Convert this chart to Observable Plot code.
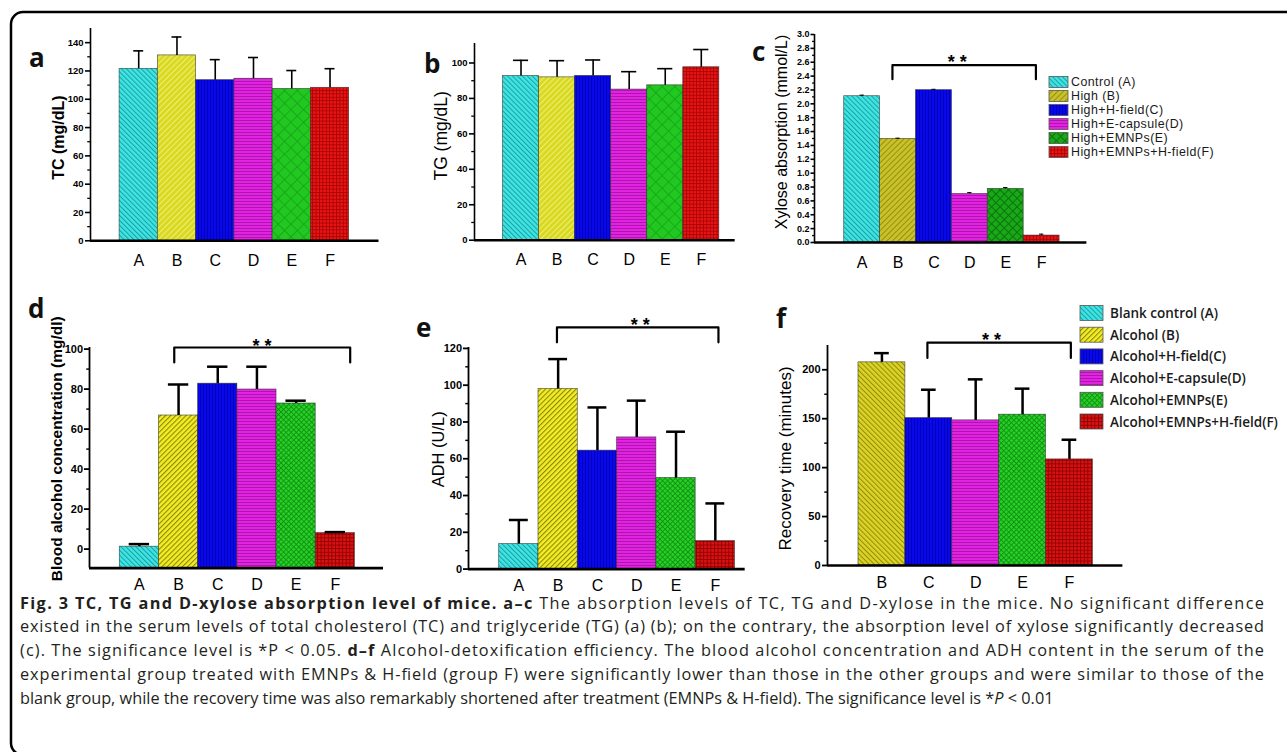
<!DOCTYPE html>
<html><head><meta charset="utf-8">
<script src="https://cdn.jsdelivr.net/npm/d3@7"></script>
<script src="https://cdn.jsdelivr.net/npm/@observablehq/plot@0.6"></script>
<style>
html,body{margin:0;padding:0;background:#fff;}
#root{position:relative;width:1287px;height:752px;overflow:hidden;background:#fff;}
#root svg{position:absolute;}
</style></head><body><div id="root"></div>
<script>
// ---------------- data ----------------
const cats6 = ["A","B","C","D","E","F"];
const catsF = ["B","C","D","E","F"];
const tcMean = [121.5, 131.0, 113.5, 114.5, 107.3, 108.1];
const tcErr  = [12.7, 13.0, 14.5, 15.0, 13.0, 13.5];
const tgMean = [92.7, 91.9, 92.7, 85.0, 87.4, 97.6];
const tgErr  = [8.8, 9.4, 9.0, 10.1, 9.4, 10.0];
const xyMean = [2.11, 1.494, 2.197, 0.70, 0.773, 0.10];
const xyErr  = [0.015, 0.01, 0.012, 0.02, 0.02, 0.02];
const bacMean = [1.2, 66.8, 82.7, 79.8, 72.8, 8.0];
const bacErr  = [1.3, 15.5, 8.5, 11.4, 1.4, 0.5];
const adhMean = [13.6, 97.9, 64.4, 71.6, 49.5, 15.2];
const adhErr  = [13.1, 16.3, 23.5, 20.0, 25.2, 20.5];
const recMean = [207.6, 150.6, 148.3, 154.1, 108.4];
const recErr  = [9.4, 29.0, 41.9, 26.6, 20.1];
const tcTicks = [0, 20, 40, 60, 80, 100, 120, 140];
const tgTicks = [0, 20, 40, 60, 80, 100];
const xyTicks = [0, 0.2, 0.4, 0.6, 0.8, 1.0, 1.2, 1.4, 1.6, 1.8, 2.0, 2.2, 2.4, 2.6, 2.8, 3.0];
const bacTicks = [0, 20, 40, 60, 80, 100];
const adhTicks = [0, 20, 40, 60, 80, 100, 120];
const recTicks = [0, 50, 100, 150, 200];
const legendTop = ["Control (A)", "High (B)", "High+H-field(C)", "High+E-capsule(D)", "High+EMNPs(E)", "High+EMNPs+H-field(F)"];
const legendBottom = ["Blank control (A)", "Alcohol (B)", "Alcohol+H-field(C)", "Alcohol+E-capsule(D)", "Alcohol+EMNPs(E)", "Alcohol+EMNPs+H-field(F)"];
const sigLabel = "* *";
const caption = [
  [{t:"Fig. 3 TC, TG and D-xylose absorption level of mice. a–c", b:true}, {t:" The absorption levels of TC, TG and D-xylose in the mice. No significant difference"}],
  [{t:"existed in the serum levels of total cholesterol (TC) and triglyceride (TG) (a) (b); on the contrary, the absorption level of xylose significantly decreased"}],
  [{t:"(c). The significance level is *P < 0.05. "}, {t:"d–f", b:true}, {t:" Alcohol-detoxification efficiency. The blood alcohol concentration and ADH content in the serum of the"}],
  [{t:"experimental group treated with EMNPs & H-field (group F) were significantly lower than those in the other groups and were similar to those of the"}],
  [{t:"blank group, while the recovery time was also remarkably shortened after treatment (EMNPs & H-field). The significance level is *"}, {t:"P", i:true}, {t:" < 0.01"}]
];

// ---------------- patterns ----------------
const root = d3.select("#root");
const defsSvg = root.append("svg").attr("width", 0).attr("height", 0).style("left", "0px").style("top", "0px");
const defs = defsSvg.append("defs");
function pat(id, bg, col, kind, s, sw, rot) {
  const p = defs.append("pattern").attr("id", id).attr("patternUnits", "userSpaceOnUse")
    .attr("width", s).attr("height", s);
  if (rot) p.attr("patternTransform", `rotate(${rot})`);
  p.append("rect").attr("width", s).attr("height", s).attr("fill", bg);
  if (kind === "line" || kind === "grid")
    p.append("line").attr("x1", 0.5).attr("y1", 0).attr("x2", 0.5).attr("y2", s).attr("stroke", col).attr("stroke-width", sw);
  if (kind === "grid")
    p.append("line").attr("x1", 0).attr("y1", 0.5).attr("x2", s).attr("y2", 0.5).attr("stroke", col).attr("stroke-width", sw);
}
pat("pA", "#3fe4e4", "#1c9f9f", "line", 3.5, 1, -45);
pat("pB", "#d9d923", "#f1f17a", "line", 4, 0.9, 45);
pat("pBc", "#c9c128", "#918a12", "line", 4, 0.9, 45);
pat("pB2", "#f3ee22", "#8c8610", "line", 3.6, 1.2, 45);
pat("pB3", "#dcd424", "#948b12", "line", 3.6, 1.1, -45);
pat("pC", "#0808e8", "#0000b4", "line", 3, 0.8, 0);
pat("pD", "#e223e2", "#a812a8", "line", 3, 0.9, 90);
pat("pE", "#20c820", "#199f19", "grid", 9, 0.8, 45);
pat("pE2", "#18a818", "#0c740c", "grid", 6, 1, 45);
pat("pE3", "#25d225", "#139013", "grid", 3.6, 0.9, 45);
pat("pF", "#e81616", "#a30000", "grid", 3.4, 0.8, 0);
pat("pF2", "#da1212", "#8e0000", "grid", 3.6, 0.9, 0);

// ---------------- panels ----------------
function panel(cfg) {
  const ml = 60, mr = 6, mt = 40, mb = 36;
  const width = cfg.x1 - cfg.x0 + ml + mr;
  const height = cfg.yBase - cfg.yTop + mt + mb;
  const [ymin, ymax] = cfg.ydom;
  const data = cfg.cats.map((c, i) => ({i, c, v: cfg.values[i], e: cfg.errs[i], fill: `url(#${cfg.pats[i]})`}));
  const t0 = cfg.ticks[0], t1 = cfg.ticks[cfg.ticks.length - 1];
  const minors = d3.range(t0, t1 + 1e-9, cfg.minor).filter(t => !cfg.ticks.some(m => Math.abs(m - t) < 1e-9));
  const marks = [
    Plot.rect(data, {x1: d => d.i - 0.5, x2: d => d.i + 0.5, y1: ymin, y2: "v", fill: "fill",
      stroke: "#2a2a2a", strokeWidth: 0.7, strokeOpacity: 0.75}),
    Plot.ruleX(data, {x: "i", y1: "v", y2: d => d.v + d.e, stroke: "#000", strokeWidth: cfg.errW}),
    Plot.ruleY(data, {y: d => d.v + d.e, x1: d => d.i - cfg.cap, x2: d => d.i + cfg.cap, stroke: "#000", strokeWidth: cfg.errW}),
    Plot.ruleY([ymin], {x1: cfg.xdom[0], x2: cfg.xdom[1], stroke: "#000", strokeWidth: cfg.baseW}),
    Plot.ruleX([cfg.xdom[0]], {y1: ymin, y2: ymax, stroke: "#000", strokeWidth: cfg.axisW}),
    Plot.axisY({ticks: cfg.ticks, tickSize: cfg.tickSize, tickPadding: cfg.tickPad, tickFormat: cfg.fmt,
      fontSize: cfg.tickFont, fontWeight: "bold", strokeWidth: cfg.axisW, label: null, fill: "#000"}),
    Plot.axisY({ticks: minors, tickSize: cfg.tickSize * 0.55, tickFormat: () => "", strokeWidth: cfg.axisW * 0.8, label: null}),
    Plot.text(data, {x: "i", y: ymin, text: "c", dy: cfg.catDy, fontSize: 16, lineAnchor: "middle", fill: "#000"}),
    Plot.text([cfg.ylabel], {frameAnchor: "left", text: d => d, rotate: -90, dx: cfg.ldx, dy: cfg.ldy,
      fontSize: cfg.lfs, fontWeight: cfg.lfw, textAnchor: "middle", lineAnchor: "middle", fill: "#000"})
  ];
  if (cfg.sig) {
    const s = cfg.sig;
    const pts = [{x: s.b0, y: s.leg}, {x: s.b0, y: s.top}, {x: s.b1, y: s.top}, {x: s.b1, y: s.leg}];
    marks.push(Plot.line(pts, {x: "x", y: "y", stroke: "#000", strokeWidth: 2.2, strokeLinejoin: "round"}));
    marks.push(Plot.text([sigLabel], {x: s.sx, y: s.sy, text: d => d, fontSize: 18, fontWeight: "bold", lineAnchor: "middle", dy: 4, fill: "#000"}));
  }
  const svg = Plot.plot({
    width, height, marginLeft: ml, marginRight: mr, marginTop: mt, marginBottom: mb,
    x: {type: "linear", domain: cfg.xdom, axis: null},
    y: {type: "linear", domain: cfg.ydom, axis: null},
    color: {type: "identity"},
    style: {fontFamily: "'Liberation Sans', Arial, sans-serif", background: "transparent", overflow: "visible", maxWidth: "none"},
    marks
  });
  svg.style.position = "absolute";
  svg.style.left = (cfg.x0 - ml) + "px";
  svg.style.top = (cfg.yTop - mt) + "px";
  document.getElementById("root").appendChild(svg);
}

const topPats = ["pA", "pB", "pC", "pD", "pE", "pF"];
const botPats = ["pA", "pB2", "pC", "pD", "pE3", "pF2"];

panel({x0: 89.5, x1: 378, yTop: 28.4, yBase: 240.7, xdom: [-1.26, 6.28], ydom: [0, 150],
  cats: cats6, values: tcMean, errs: tcErr, pats: topPats, ticks: tcTicks, minor: 10, fmt: d => d,
  tickFont: 9.5, tickSize: 5, tickPad: 2, axisW: 1.6, baseW: 2.4, errW: 1.6, cap: 0.13, catDy: 20,
  ylabel: "TC (mg/dL)", lfs: 16, lfw: "bold", ldx: -32, ldy: 3});

panel({x0: 474.3, x1: 735, yTop: 43.3, yBase: 240, xdom: [-1.29, 5.94], ydom: [0, 111],
  cats: cats6, values: tgMean, errs: tgErr, pats: topPats, ticks: tgTicks, minor: 10, fmt: d => d,
  tickFont: 9.5, tickSize: 5, tickPad: 2, axisW: 1.6, baseW: 2.4, errW: 1.6, cap: 0.21, catDy: 20,
  ylabel: "TG (mg/dL)", lfs: 17.5, lfw: "normal", ldx: -33, ldy: -6});

panel({x0: 814.3, x1: 1086.7, yTop: 34.3, yBase: 242.3, xdom: [-1.327, 6.26], ydom: [0, 3],
  cats: cats6, values: xyMean, errs: xyErr, pats: ["pA", "pBc", "pC", "pD", "pE2", "pF"], ticks: xyTicks, minor: 0.1, fmt: d => d.toFixed(1),
  tickFont: 9, tickSize: 3.5, tickPad: 1.5, axisW: 1.6, baseW: 2.4, errW: 1, cap: 0.06, catDy: 20,
  ylabel: "Xylose absorption (mmol/L)", lfs: 16, lfw: "normal", ldx: -32.6, ldy: -6.5,
  sig: {b0: 0.844, b1: 4.84, top: 2.557, leg: 2.355, sx: 2.65, sy: 2.658}});

panel({x0: 89, x1: 383, yTop: 346.7, yBase: 567.3, xdom: [-1.273, 6.23], ydom: [-9.5, 100.8],
  cats: cats6, values: bacMean, errs: bacErr, pats: botPats, ticks: bacTicks, minor: 10, fmt: d => d,
  tickFont: 11, tickSize: 5, tickPad: 1.5, axisW: 1.8, baseW: 2.6, errW: 2.5, cap: 0.26, catDy: 17,
  ylabel: "Blood alcohol concentration (mg/dl)", lfs: 15.5, lfw: "bold", ldx: -32, ldy: -9,
  sig: {b0: 0.89, b1: 5.38, top: 100.8, leg: 93.3, sx: 3.13, sy: 103.6}});

panel({x0: 468.3, x1: 745, yTop: 346.7, yBase: 568.3, xdom: [-1.281, 5.76], ydom: [0, 120.5],
  cats: cats6, values: adhMean, errs: adhErr, pats: botPats, ticks: adhTicks, minor: 10, fmt: d => d,
  tickFont: 11, tickSize: 5, tickPad: 1.5, axisW: 1.8, baseW: 2.6, errW: 2.5, cap: 0.24, catDy: 17,
  ylabel: "ADH (U/L)", lfs: 16.5, lfw: "normal", ldx: -30, ldy: -9,
  sig: {b0: 0.97, b1: 5.08, top: 131.4, leg: 123.3, sx: 3.09, sy: 134.7}});

panel({x0: 827.3, x1: 1122.7, yTop: 345, yBase: 565, xdom: [-1.161, 5.14], ydom: [0, 224.8],
  cats: catsF, values: recMean, errs: recErr, pats: ["pB3", "pC", "pD", "pE3", "pF2"], ticks: recTicks, minor: 25, fmt: d => d,
  tickFont: 11, tickSize: 5, tickPad: 2, axisW: 1.8, baseW: 2.6, errW: 2.5, cap: 0.157, catDy: 17,
  ylabel: "Recovery time (minutes)", lfs: 17, lfw: "normal", ldx: -42, ldy: 3,
  sig: {b0: 0.97, b1: 4.03, top: 227.7, leg: 212, sx: 2.34, sy: 234}});

// ---------------- overlay: frame, letters, legends, caption ----------------
const ov = root.append("svg").attr("width", 1287).attr("height", 752).style("left", "0px").style("top", "0px")
  .style("pointer-events", "none");
ov.append("rect").attr("x", 11).attr("y", 12).attr("width", 1300).attr("height", 743).attr("rx", 12)
  .attr("fill", "none").attr("stroke", "#000").attr("stroke-width", 2.5);

const letters = [["a", 29, 67], ["b", 424, 73], ["c", 752, 61], ["d", 28, 318], ["e", 416, 337], ["f", 776, 328]];
ov.selectAll("text.letter").data(letters).join("text").attr("class", "letter")
  .attr("x", d => d[1]).attr("y", d => d[2]).text(d => d[0])
  .attr("font-family", "'Open Sans', sans-serif").attr("font-weight", 700).attr("font-size", 26).attr("fill", "#111");

function legend(items, pats, x, y0, step, w, h, fs, fw, tx, family, ls) {
  const g = ov.append("g");
  items.forEach((t, i) => {
    const cy = y0 + i * step;
    g.append("rect").attr("x", x).attr("y", cy - h / 2).attr("width", w).attr("height", h)
      .attr("fill", `url(#${pats[i]})`).attr("stroke", "#555").attr("stroke-width", 0.8);
    g.append("text").attr("x", tx).attr("y", cy).attr("dominant-baseline", "central").text(t)
      .attr("font-family", family).attr("font-size", fs).attr("font-weight", fw)
      .attr("letter-spacing", ls).attr("fill", "#1a1a1a");
  });
}
legend(legendTop, ["pA", "pBc", "pC", "pD", "pE2", "pF"], 1049, 82, 14, 19, 11, 12.4, 400, 1071, "'Liberation Sans', Arial, sans-serif", 0.45);
legend(legendBottom, ["pA", "pB2", "pC", "pD", "pE3", "pF2"], 1080, 313, 21.7, 23, 15, 13.5, 600, 1110, "'Open Sans', sans-serif", 0);

const capG = ov.append("g").attr("font-family", "'Open Sans', sans-serif").attr("font-size", 16.3).attr("fill", "#231f20");
caption.forEach((line, i) => {
  const t = capG.append("text").attr("x", 20).attr("y", 608.5 + i * 23.8).style("white-space", "pre");
  if (i < caption.length - 1) t.attr("textLength", 1244).attr("lengthAdjust", "spacing");
  line.forEach(seg => {
    const s = t.append("tspan").text(seg.t);
    if (seg.b) s.attr("font-weight", 700);
    if (seg.i) s.attr("font-style", "italic");
  });
});
</script></body></html>
